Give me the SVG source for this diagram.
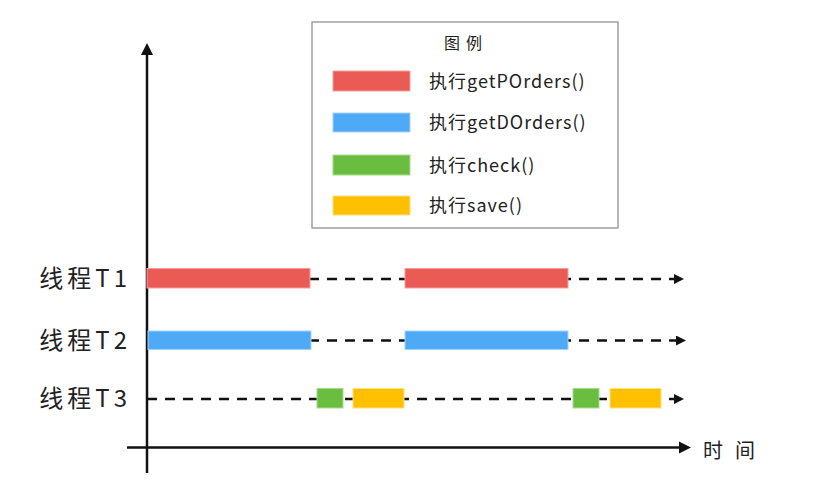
<svg xmlns="http://www.w3.org/2000/svg" width="837" height="498" viewBox="0 0 837 498">
<style>
.lbl{font-family:"Noto Sans CJK SC","Liberation Sans",sans-serif;fill:#222;}
.axis{stroke:#111;stroke-width:2.5;fill:none;}
.dash{stroke:#111;stroke-width:2.5;stroke-dasharray:10 8;fill:none;}
.red{fill:#eb5b56;stroke:#f3a09c;stroke-width:1;}
.blue{fill:#4ea9f7;stroke:#a3d2fb;stroke-width:1;}
.green{fill:#6bbd3f;stroke:#a8dc8c;stroke-width:1;}
.yellow{fill:#fec000;stroke:#ffe07a;stroke-width:1;}
</style>
<defs>
<marker id="ah" viewBox="0 0 10 10" refX="0" refY="5" markerWidth="10" markerHeight="10" markerUnits="userSpaceOnUse" orient="auto">
<path d="M0,0 L10,5 L0,10 Z" fill="#111"/>
</marker>
</defs>
<rect width="837" height="498" fill="#fff"/>
<g id="connectors">
<line class="axis" x1="147" y1="473" x2="147" y2="54"/>
<path d="M141,55 L147,43 L153,55 Z" fill="#111"/>
<line class="axis" x1="127" y1="447.5" x2="680" y2="447.5"/>
<path d="M679,441.5 L691,447.5 L679,453.5 Z" fill="#111"/>
<line class="dash" x1="147" y1="279" x2="674" y2="279" marker-end="url(#ah)"/>
<line class="dash" x1="147" y1="340.5" x2="676" y2="340.5" marker-end="url(#ah)"/>
<line class="dash" x1="147" y1="399" x2="674" y2="399" marker-end="url(#ah)"/>
</g>
<g id="axis-labels">
<text class="lbl" x="131" y="287" font-size="24" text-anchor="end" letter-spacing="4">线程T1</text>
<text class="lbl" x="131" y="349" font-size="24" text-anchor="end" letter-spacing="4">线程T2</text>
<text class="lbl" x="131" y="407" font-size="24" text-anchor="end" letter-spacing="4">线程T3</text>
<text class="lbl" x="703" y="458" font-size="20" letter-spacing="12">时间</text>
</g>
<g id="t1">
<rect class="red" x="147" y="268.5" width="163" height="19.5"/>
<rect class="red" x="405" y="268.5" width="163" height="19.5"/>
</g>
<g id="t2">
<rect class="blue" x="148" y="331" width="163" height="18.5"/>
<rect class="blue" x="405" y="331" width="163" height="18.5"/>
</g>
<g id="t3">
<rect class="green" x="317" y="388.5" width="26" height="19.5"/>
<rect class="yellow" x="353" y="388.5" width="51" height="19.5"/>
<rect class="green" x="573" y="388.5" width="26" height="19.5"/>
<rect class="yellow" x="610" y="388.5" width="51" height="19.5"/>
</g>
<g id="legend">
<rect x="312" y="22" width="306" height="206" fill="#fff" stroke="#888" stroke-width="1.2"/>
<text class="lbl" x="466" y="49" font-size="16" text-anchor="middle" letter-spacing="6">图例</text>
<rect class="red" x="333" y="71" width="77" height="20"/>
<rect class="blue" x="333" y="113" width="77" height="19"/>
<rect class="green" x="333" y="155" width="77" height="20"/>
<rect class="yellow" x="333" y="196" width="77" height="19"/>
<text class="lbl" x="429" y="88" font-size="18" letter-spacing="1">执行getPOrders()</text>
<text class="lbl" x="429" y="129" font-size="18" letter-spacing="1">执行getDOrders()</text>
<text class="lbl" x="429" y="172" font-size="18" letter-spacing="1">执行check()</text>
<text class="lbl" x="429" y="212" font-size="18" letter-spacing="1">执行save()</text>
</g>
</svg>
